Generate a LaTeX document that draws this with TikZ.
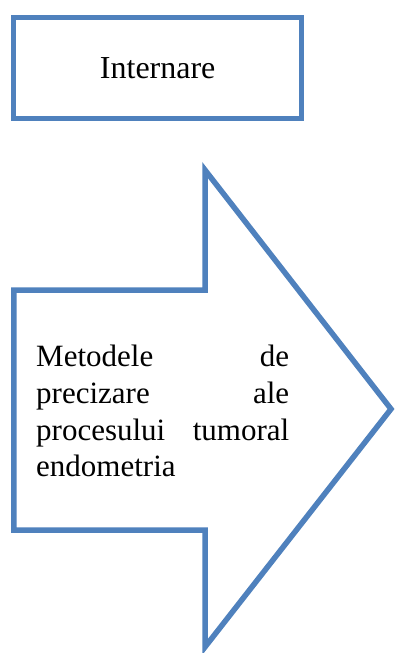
\documentclass[tikz,border=0pt]{standalone}
\usepackage{fontspec}
\setmainfont{Liberation Serif}
\usepackage{xcolor}
\usepackage{tikz}
\definecolor{figblue}{RGB}{79,129,189}
\hyphenpenalty=10000
\exhyphenpenalty=10000
\tolerance=10000
\newcommand{\nohyph}{\hyphenpenalty=10000 \exhyphenpenalty=10000 \tolerance=10000 \pretolerance=-1 }
\tikzstyle{boxnode}=[draw=figblue, line width=5.5pt, shape=rectangle, fill=white, minimum width=288pt, minimum height=101pt, inner sep=0pt]
\tikzstyle{arrowline}=[draw=figblue, line width=5.5pt, fill=white]
\tikzstyle{textnode}=[shape=rectangle, inner sep=0pt, text width=253pt, align=justify, font=\fontsize{31}{36.8}\selectfont]
\begin{document}
\begin{tikzpicture}[x=1pt, y=-1pt]
\useasboundingbox (0,0) rectangle (395,653);
\node [boxnode, font=\fontsize{32}{38}\selectfont] (internare) at (157.7,68) {Internare};

\coordinate (bodytl) at (13.8,290);
\coordinate (bodybl) at (13.8,530);
\coordinate (headtop) at (205,170);
\coordinate (headbot) at (205,647);
\coordinate (tip) at (391,409);
\draw[arrowline] (bodytl) -- (headtop |- bodytl) -- (headtop) -- (tip) -- (headbot) -- (headbot |- bodybl) -- (bodybl) -- cycle;

\node [textnode, anchor=north west] (metode) at (36,344.8) {\nohyph Metodele de precizare ale procesului tumoral endometria\par};
\end{tikzpicture}
\end{document}
